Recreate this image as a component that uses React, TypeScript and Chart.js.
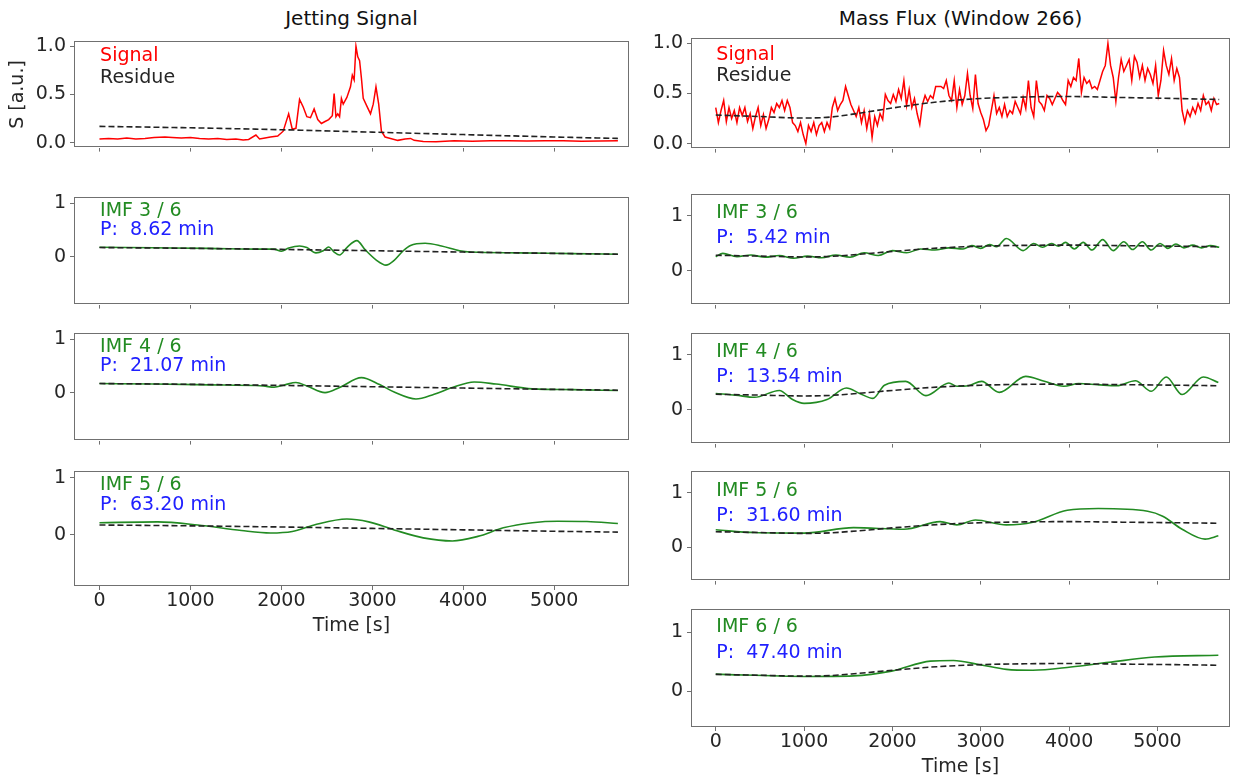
import React, { useEffect, useRef } from "react";
import { Chart, registerables } from "chart.js";

Chart.register(...registerables);

// ---------------- DATA ----------------
const X_TICKS = [0, 1000, 2000, 3000, 4000, 5000];
const X_MIN = -280;
const X_MAX = 5822;

// Jetting signal
const JET_T = [0,100,200,300,400,500,600,720,800,900,1000,1100,1200,1300,1400,1500,1580,1640,1720,1760,1820,1880,1960,2020,2080,2120,2160,2200,2240,2280,2320,2360,2400,2440,2480,2520,2560,2580,2600,2620,2640,2660,2680,2720,2760,2780,2800,2820,2840,2860,2880,2900,2940,2980,3010,3040,3070,3100,3140,3200,3280,3360,3420,3460,3560,3700,3900,4100,4300,4500,4700,4900,5100,5300,5500,5700];
const JET_S = [0.04,0.045,0.04,0.05,0.04,0.045,0.055,0.06,0.055,0.05,0.055,0.045,0.04,0.045,0.035,0.04,0.03,0.035,0.08,0.04,0.05,0.06,0.07,0.12,0.30,0.14,0.15,0.45,0.37,0.27,0.26,0.35,0.24,0.20,0.22,0.24,0.28,0.51,0.27,0.30,0.27,0.46,0.40,0.47,0.58,0.70,0.65,1.0,0.89,0.85,0.67,0.46,0.38,0.30,0.40,0.58,0.40,0.12,0.06,0.045,0.025,0.04,0.045,0.025,0.012,0.01,0.02,0.015,0.02,0.022,0.018,0.02,0.022,0.015,0.018,0.02];
const JET_RES_T = [0,1000,2000,3000,4000,5000,5700];
const JET_RES = [0.17,0.155,0.135,0.11,0.085,0.06,0.045];

const JET_IMF3_T = [0,600,1200,1800,1920,2000,2080,2200,2280,2380,2460,2520,2580,2640,2720,2830,2920,3040,3150,3240,3340,3420,3580,3760,3960,4080,4600,5200,5700];
const JET_IMF3 = [0.175,0.165,0.155,0.14,0.14,0.10,0.16,0.20,0.17,0.07,0.11,0.18,0.085,0.03,0.17,0.30,0.13,-0.06,-0.16,-0.07,0.11,0.21,0.25,0.20,0.11,0.085,0.07,0.055,0.045];
const JET_IMF4_T = [0,600,1200,1800,1920,2040,2160,2280,2480,2640,2880,3080,3240,3480,3680,3880,4120,4360,4760,5200,5700];
const JET_IMF4 = [0.17,0.16,0.145,0.124,0.10,0.147,0.19,0.124,0.0,0.096,0.28,0.15,0.01,-0.12,-0.03,0.096,0.2,0.16,0.07,0.055,0.04];
const JET_IMF5_T = [0,640,1080,1560,1880,2120,2360,2720,2960,3240,3560,3880,4160,4440,4760,5040,5360,5700];
const JET_IMF5 = [0.21,0.225,0.17,0.073,0.03,0.056,0.17,0.275,0.225,0.084,-0.056,-0.11,-0.03,0.12,0.21,0.236,0.23,0.197];

// Mass flux (sampled every 30 s)
const MASS_DT = 30;
const MASS_S = [
  0.36,0.21,0.33,0.43,0.22,0.36,0.25,0.33,0.21,0.36,
  0.28,0.36,0.22,0.30,0.15,0.27,0.36,0.18,0.29,0.15,
  0.24,0.36,0.31,0.40,0.36,0.43,0.33,0.43,0.36,0.21,
  0.18,0.12,0.21,0.09,0.0,0.18,0.12,0.21,0.09,0.18,
  0.21,0.12,0.21,0.15,0.36,0.45,0.33,0.39,0.43,0.57,
  0.48,0.39,0.33,0.27,0.36,0.21,0.33,0.15,0.30,0.06,
  0.27,0.18,0.30,0.24,0.49,0.43,0.40,0.49,0.42,0.54,
  0.45,0.63,0.38,0.54,0.36,0.45,0.30,0.19,0.39,0.48,
  0.42,0.48,0.45,0.57,0.57,0.57,0.55,0.63,0.48,0.43,
  0.63,0.36,0.54,0.39,0.48,0.70,0.48,0.35,0.69,0.40,
  0.31,0.24,0.13,0.18,0.33,0.48,0.30,0.36,0.27,0.39,
  0.27,0.33,0.30,0.42,0.36,0.30,0.46,0.35,0.63,0.36,
  0.27,0.63,0.42,0.39,0.33,0.48,0.45,0.39,0.45,0.51,
  0.48,0.43,0.39,0.63,0.57,0.66,0.63,0.85,0.51,0.66,
  0.60,0.63,0.55,0.57,0.54,0.63,0.72,0.78,1.0,0.78,
  0.66,0.42,0.66,0.84,0.72,0.78,0.84,0.63,0.87,0.81,
  0.66,0.78,0.63,0.75,0.69,0.60,0.78,0.48,0.63,0.93,
  0.78,0.69,0.85,0.63,0.75,0.66,0.33,0.21,0.33,0.27,
  0.36,0.30,0.40,0.33,0.48,0.39,0.42,0.33,0.45,0.39,
  0.40,
];
const MASS_T = MASS_S.map((_, i) => i * MASS_DT);
const MASS_RES_T = [0,500,1000,1300,1600,2000,2500,3000,3500,4000,4600,5200,5700];
const MASS_RES = [0.285,0.27,0.255,0.265,0.30,0.355,0.415,0.45,0.465,0.47,0.46,0.45,0.44];

const MASS_IMF3_T = [0,80,240,400,560,720,880,1040,1200,1360,1520,1680,1840,2000,2160,2320,2480,2640,2800,2900,3000,3100,3180,3290,3480,3600,3700,3800,3880,3960,4060,4160,4260,4380,4500,4620,4720,4830,4930,5030,5120,5210,5300,5400,5500,5600,5700];
const MASS_IMF3 = [0.26,0.32,0.26,0.29,0.25,0.28,0.23,0.27,0.24,0.29,0.25,0.33,0.28,0.37,0.33,0.40,0.38,0.42,0.40,0.46,0.41,0.48,0.44,0.59,0.37,0.50,0.43,0.50,0.45,0.52,0.40,0.52,0.38,0.57,0.37,0.53,0.39,0.53,0.38,0.50,0.41,0.49,0.42,0.47,0.42,0.46,0.43];
const MASS_IMF4_T = [0,225,440,720,870,1000,1260,1480,1630,1780,1910,2150,2380,2640,2730,2860,3010,3210,3510,3720,3940,4110,4320,4540,4750,4930,5100,5280,5520,5690];
const MASS_IMF4 = [0.30,0.27,0.23,0.355,0.19,0.12,0.19,0.40,0.30,0.21,0.45,0.52,0.26,0.49,0.43,0.44,0.52,0.32,0.61,0.52,0.43,0.48,0.46,0.44,0.53,0.34,0.60,0.28,0.60,0.50];
const MASS_IMF5_T = [0,440,1000,1560,2130,2540,2730,2940,3290,3590,3980,4330,4890,5060,5280,5540,5690];
const MASS_IMF5 = [0.32,0.27,0.26,0.36,0.33,0.47,0.41,0.50,0.41,0.46,0.68,0.71,0.66,0.57,0.33,0.15,0.21];
const MASS_IMF6_T = [0,1000,1560,1990,2430,2690,2990,3290,3590,4020,4450,4970,5690];
const MASS_IMF6 = [0.29,0.25,0.26,0.34,0.51,0.52,0.45,0.37,0.355,0.41,0.49,0.58,0.61];

// ---------------- STYLE / LAYOUT ----------------
const FONT = "'DejaVu Sans', sans-serif";
const TICK_SIZE = 19;
const TEXT_SIZE = 19;
const TITLE_SIZE = 20;
const RED = "#ff0000";
const GREEN = "#228b22";
const BLUE = "#2020ff";
const DASH = "#222222";
const FRAME = "#707070";
const TEXT = "#262626";

type Series = { x: number[]; y: number[]; color: string; dash?: number[]; width: number; smooth: boolean };
type Label = { text: string; color: string; y: number };
type Panel = {
  id: string;
  boxLeft: number; boxTop: number; boxW: number; boxH: number;
  canvasLeft: number;
  yMin: number; yMax: number; yTicks: number[]; yDigits: number;
  series: Series[];
  labels: Label[];
  bottom: boolean;
  yTitle?: string;
};

const LEFT_X = 74, LEFT_W = 555;
const RIGHT_X = 691, RIGHT_W = 539;
const L_YMIN = -0.9, L_YMAX = 1.11;
const R_YMIN = -0.61, R_YMAX = 1.39;

const res = (x: number[], y: number[]): Series => ({ x, y, color: DASH, dash: [6, 3], width: 1.6, smooth: true });
const imf = (x: number[], y: number[]): Series => ({ x, y, color: GREEN, width: 1.6, smooth: true });

const PANELS: Panel[] = [
  {
    id: "L1", boxLeft: LEFT_X, boxTop: 36, boxW: LEFT_W, boxH: 119, canvasLeft: 0,
    yMin: -0.05, yMax: 1.05, yTicks: [0, 0.5, 1], yDigits: 1,
    series: [res(JET_RES_T, JET_RES), { x: JET_T, y: JET_S, color: RED, width: 1.5, smooth: false }],
    labels: [{ text: "Signal", color: RED, y: 50.5 }, { text: "Residue", color: TEXT, y: 73 }],
    bottom: false, yTitle: "S [a.u.]",
  },
  {
    id: "L2", boxLeft: LEFT_X, boxTop: 192, boxW: LEFT_W, boxH: 120, canvasLeft: 0,
    yMin: L_YMIN, yMax: L_YMAX, yTicks: [0, 1], yDigits: 0,
    series: [res(JET_RES_T, JET_RES), imf(JET_IMF3_T, JET_IMF3)],
    labels: [{ text: "IMF 3 / 6", color: GREEN, y: 206 }, { text: "P:  8.62 min", color: BLUE, y: 225 }],
    bottom: false,
  },
  {
    id: "L3", boxLeft: LEFT_X, boxTop: 328, boxW: LEFT_W, boxH: 120, canvasLeft: 0,
    yMin: L_YMIN, yMax: L_YMAX, yTicks: [0, 1], yDigits: 0,
    series: [res(JET_RES_T, JET_RES), imf(JET_IMF4_T, JET_IMF4)],
    labels: [{ text: "IMF 4 / 6", color: GREEN, y: 342 }, { text: "P:  21.07 min", color: BLUE, y: 361 }],
    bottom: false,
  },
  {
    id: "L4", boxLeft: LEFT_X, boxTop: 466, boxW: LEFT_W, boxH: 120, canvasLeft: 0,
    yMin: L_YMIN, yMax: L_YMAX, yTicks: [0, 1], yDigits: 0,
    series: [res(JET_RES_T, JET_RES), imf(JET_IMF5_T, JET_IMF5)],
    labels: [{ text: "IMF 5 / 6", color: GREEN, y: 480 }, { text: "P:  63.20 min", color: BLUE, y: 500 }],
    bottom: true,
  },
  {
    id: "R1", boxLeft: RIGHT_X, boxTop: 33, boxW: RIGHT_W, boxH: 123, canvasLeft: 621,
    yMin: -0.05, yMax: 1.05, yTicks: [0, 0.5, 1], yDigits: 1,
    series: [res(MASS_RES_T, MASS_RES), { x: MASS_T, y: MASS_S, color: RED, width: 1.5, smooth: false }],
    labels: [{ text: "Signal", color: RED, y: 50 }, { text: "Residue", color: TEXT, y: 71 }],
    bottom: false,
  },
  {
    id: "R2", boxLeft: RIGHT_X, boxTop: 189, boxW: RIGHT_W, boxH: 123, canvasLeft: 621,
    yMin: R_YMIN, yMax: R_YMAX, yTicks: [0, 1], yDigits: 0,
    series: [res(MASS_RES_T, MASS_RES), imf(MASS_IMF3_T, MASS_IMF3)],
    labels: [{ text: "IMF 3 / 6", color: GREEN, y: 208 }, { text: "P:  5.42 min", color: BLUE, y: 233 }],
    bottom: false,
  },
  {
    id: "R3", boxLeft: RIGHT_X, boxTop: 328, boxW: RIGHT_W, boxH: 123, canvasLeft: 621,
    yMin: R_YMIN, yMax: R_YMAX, yTicks: [0, 1], yDigits: 0,
    series: [res(MASS_RES_T, MASS_RES), imf(MASS_IMF4_T, MASS_IMF4)],
    labels: [{ text: "IMF 4 / 6", color: GREEN, y: 347 }, { text: "P:  13.54 min", color: BLUE, y: 372 }],
    bottom: false,
  },
  {
    id: "R4", boxLeft: RIGHT_X, boxTop: 466, boxW: RIGHT_W, boxH: 122, canvasLeft: 621,
    yMin: R_YMIN, yMax: R_YMAX, yTicks: [0, 1], yDigits: 0,
    series: [res(MASS_RES_T, MASS_RES), imf(MASS_IMF5_T, MASS_IMF5)],
    labels: [{ text: "IMF 5 / 6", color: GREEN, y: 486 }, { text: "P:  31.60 min", color: BLUE, y: 511 }],
    bottom: false,
  },
  {
    id: "R5", boxLeft: RIGHT_X, boxTop: 604, boxW: RIGHT_W, boxH: 123, canvasLeft: 621,
    yMin: R_YMIN, yMax: R_YMAX, yTicks: [0, 1], yDigits: 0,
    series: [res(MASS_RES_T, MASS_RES), imf(MASS_IMF6_T, MASS_IMF6)],
    labels: [{ text: "IMF 6 / 6", color: GREEN, y: 622 }, { text: "P:  47.40 min", color: BLUE, y: 648 }],
    bottom: true,
  },
];

const PAD_TOP = 10;
const PAD_RIGHT = 8;
const X_H_PLAIN = 8;
const X_H_BOTTOM = 53;

const framePlugin = {
  id: "frame",
  afterDatasetsDraw(chart: any) {
    const { ctx, chartArea: a } = chart;
    ctx.save();
    ctx.strokeStyle = FRAME;
    ctx.lineWidth = 1;
    ctx.strokeRect(Math.round(a.left) + 0.5, Math.round(a.top) + 0.5, Math.round(a.right - a.left) - 1, Math.round(a.bottom - a.top) - 1);
    ctx.restore();
  },
};

const labelPlugin = {
  id: "panelLabels",
  afterDraw(chart: any, _args: any, opts: any) {
    const { ctx, chartArea: a } = chart;
    const items: Label[] = opts.items || [];
    const top: number = opts.boxTop;
    ctx.save();
    ctx.font = `${TEXT_SIZE}px ${FONT}`;
    ctx.textAlign = "left";
    ctx.textBaseline = "middle";
    items.forEach((it) => {
      ctx.fillStyle = it.color;
      ctx.fillText(it.text, a.left + (a.right - a.left) * 0.047, a.top + (it.y - top));
    });
    ctx.restore();
  },
};

function PanelChart({ p }: { p: Panel }) {
  const ref = useRef<HTMLCanvasElement | null>(null);
  const yW = p.boxLeft - p.canvasLeft;
  const xH = p.bottom ? X_H_BOTTOM : X_H_PLAIN;
  const width = yW + p.boxW + PAD_RIGHT;
  const height = PAD_TOP + p.boxH + xH;

  useEffect(() => {
    if (!ref.current) return;
    const chart = new Chart(ref.current, {
      type: "line",
      data: {
        datasets: p.series.map((s) => ({
          data: s.x.map((x, i) => ({ x, y: s.y[i] })),
          borderColor: s.color,
          borderWidth: s.width,
          borderDash: s.dash || [],
          pointRadius: 0,
          fill: false,
          tension: 0,
          cubicInterpolationMode: s.smooth ? "monotone" : "default",
        })),
      },
      options: {
        animation: false,
        responsive: false,
        devicePixelRatio: 1,
        events: [],
        layout: { padding: { top: PAD_TOP, right: PAD_RIGHT, left: 0, bottom: 0 } },
        plugins: {
          legend: { display: false },
          tooltip: { enabled: false },
          panelLabels: { items: p.labels, boxTop: p.boxTop },
        } as any,
        scales: {
          x: {
            type: "linear",
            min: X_MIN,
            max: X_MAX,
            afterBuildTicks: (s: any) => { s.ticks = X_TICKS.map((v) => ({ value: v })); },
            afterFit: (s: any) => { s.height = xH; },
            border: { display: false },
            grid: { drawOnChartArea: false, drawTicks: true, tickLength: 4, color: FRAME, lineWidth: 1 },
            ticks: {
              color: p.bottom ? TEXT : "rgba(0,0,0,0)",
              font: { family: FONT, size: TICK_SIZE },
              padding: 0,
              maxRotation: 0,
              autoSkip: false,
              callback: (v: any) => String(v),
            },
            title: {
              display: p.bottom,
              text: "Time [s]",
              color: TEXT,
              font: { family: FONT, size: TICK_SIZE },
              padding: { top: 0, bottom: 2 },
            },
          },
          y: {
            type: "linear",
            min: p.yMin,
            max: p.yMax,
            afterBuildTicks: (s: any) => { s.ticks = p.yTicks.map((v) => ({ value: v })); },
            afterFit: (s: any) => { s.width = yW; },
            border: { display: false },
            grid: { drawOnChartArea: false, drawTicks: true, tickLength: 4, color: FRAME, lineWidth: 1 },
            ticks: {
              color: TEXT,
              font: { family: FONT, size: TICK_SIZE },
              padding: 4,
              callback: (v: any) => Number(v).toFixed(p.yDigits),
            },
            title: {
              display: !!p.yTitle,
              text: p.yTitle || "",
              color: TEXT,
              font: { family: FONT, size: TICK_SIZE },
              padding: { top: 7, bottom: 0 },
            },
          },
        },
      } as any,
      plugins: [framePlugin, labelPlugin],
    });
    return () => chart.destroy();
  }, []);

  return (
    <canvas
      ref={ref}
      width={width}
      height={height}
      style={{ position: "absolute", left: p.canvasLeft, top: p.boxTop - PAD_TOP, width, height }}
    />
  );
}

export default function App() {
  useEffect(() => {
    document.body.style.margin = "0";
    document.body.style.overflow = "hidden";
  }, []);
  const titleStyle = (center: number): React.CSSProperties => ({
    position: "absolute",
    left: center - 300,
    width: 600,
    top: 5,
    textAlign: "center",
    fontFamily: FONT,
    fontSize: TITLE_SIZE,
    lineHeight: "26px",
    color: "#111",
  });
  return (
    <div style={{ position: "absolute", left: 0, top: 0, width: 1247, height: 778, background: "#fff", overflow: "hidden" }}>
      <div style={titleStyle(LEFT_X + LEFT_W / 2)}>Jetting Signal</div>
      <div style={titleStyle(RIGHT_X + RIGHT_W / 2)}>Mass Flux (Window 266)</div>
      {PANELS.map((p) => (
        <PanelChart key={p.id} p={p} />
      ))}
    </div>
  );
}
